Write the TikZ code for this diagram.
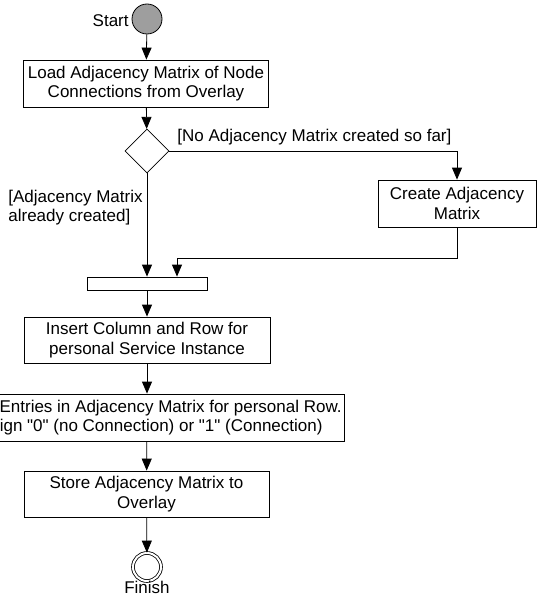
\documentclass[tikz,border=0pt]{standalone}
\usepackage{fontspec}
\newfontfamily\diagfont{Liberation Sans}
\usetikzlibrary{arrows.meta,shapes.geometric,positioning}

\begin{document}
\begin{tikzpicture}[x=1pt,y=-1pt,
				font=\diagfont\fontsize{17pt}{19.5pt}\selectfont,
				line width=0.8pt, >={Triangle[width=10pt,length=12pt]},
				act/.style={draw,align=center,inner sep=0pt,minimum height=47pt},
				decision/.style={draw,diamond,inner sep=0pt,minimum width=44pt,minimum height=44pt},
				bar/.style={draw,inner sep=0pt,minimum width=120pt,minimum height=13pt},
				startpt/.style={draw,circle,fill=black!38,inner sep=0pt,minimum size=30pt},
				endpt/.style={draw,circle,double,double distance=2pt,inner sep=0pt,minimum size=28pt},
				lbl/.style={inner sep=0pt}]
			\useasboundingbox (0,0) rectangle (537,596);
			\node [startpt] (start) at (147,19) {};
			\node [lbl,anchor=base east] (startlbl) at (129,27) {Start};
			\node [act,minimum width=245pt] (load) at (146,83.5) {Load Adjacency Matrix of Node\\Connections from Overlay}
				edge[<-] (start);
			\node [decision] (check) at (147,151) {}
				edge[<-] (load);
			\node [lbl,anchor=west] (nolbl) at (177,137) {[No Adjacency Matrix created so far]};
			\node [act,minimum width=158pt] (create) at (457,203.5) {Create Adjacency\\Matrix};
			\node [lbl,anchor=west,align=left] (yeslbl) at (8,207.5) {[Adjacency Matrix\\already created]};
			\node [bar] (join) at (147,283.5) {}
				edge[<-] (check);
			\draw [->] (check.east) -| (create.north);
			\draw [->] (create.south) -- ++(0,31) -| ([xshift=30pt]join.north);
			\node [act,minimum width=246pt,minimum height=46pt] (insert) at (147,340) {Insert Column and Row for\\personal Service Instance}
				edge[<-] (join);
			\node [act,minimum width=394pt] (entries) at (147,417.5) {Insert Entries in Adjacency Matrix for personal Row.\\Assign "0" (no Connection) or "1" (Connection)}
				edge[<-] (insert);
			\node [act,minimum width=245pt,minimum height=46pt] (store) at (146.5,494) {Store Adjacency Matrix to\\Overlay}
				edge[<-] (entries);
			\node [endpt] (finish) at (147,567) {}
				edge[<-] (store);
			\node [lbl,anchor=north] (finishlbl) at (147,581) {Finish};
		\end{tikzpicture}
\end{document}
